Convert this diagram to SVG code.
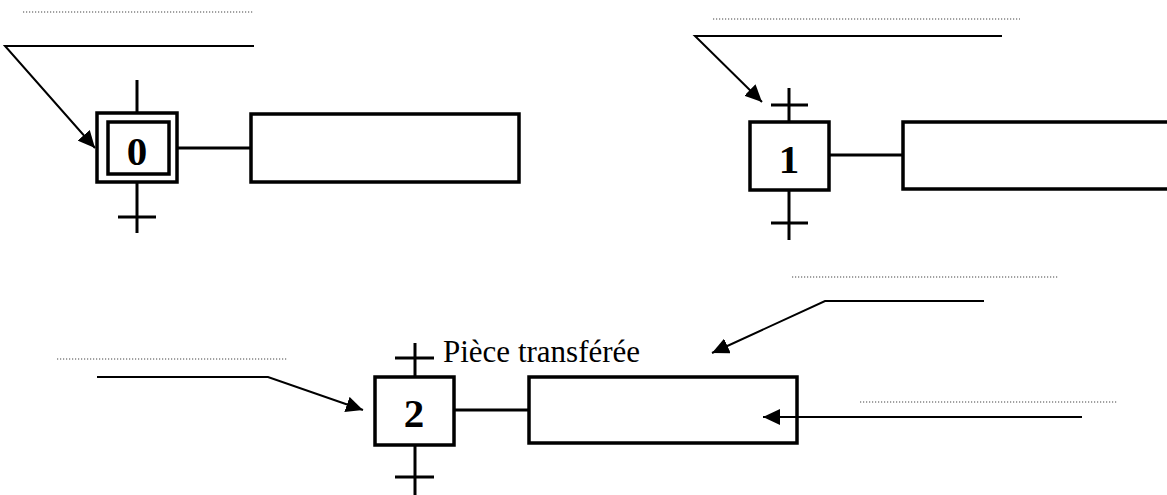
<svg xmlns="http://www.w3.org/2000/svg" width="1167" height="495" viewBox="0 0 1167 495">
<style>
.box{fill:#fff;stroke:#000;stroke-width:3.5}
.ln{stroke:#000;stroke-width:3;fill:none}
.ann{stroke:#000;stroke-width:2;fill:none}
.dot{stroke:#444;stroke-width:1.2;stroke-dasharray:1.2 1.8;fill:none}
.num{font-family:"Liberation Serif","Times New Roman",serif;font-weight:bold;font-size:41px;text-anchor:middle}
.lbl{font-family:"Liberation Serif","Times New Roman",serif;font-size:31px}
</style>
<defs>
<marker id="ah" markerUnits="userSpaceOnUse" markerWidth="18" markerHeight="16" refX="17" refY="8" orient="auto">
<path d="M0,0 L17,8 L0,16 Z" fill="#000"/>
</marker>
</defs>
<g id="step0">
<line class="ln" x1="137" y1="80" x2="137" y2="113"/>
<line class="ln" x1="137" y1="182" x2="137" y2="233"/>
<line class="ln" x1="118" y1="217" x2="156" y2="217"/>
<rect class="box" x="97" y="113" width="80" height="69"/>
<rect class="box" x="108" y="122" width="61" height="52"/>
<text class="num" x="137" y="165">0</text>
<line class="ln" x1="177" y1="148" x2="251" y2="148"/>
</g>
<g id="action0"><rect class="box" x="251" y="114" width="268" height="68"/></g>
<g id="step1">
<line class="ln" x1="789" y1="88" x2="789" y2="122"/>
<line class="ln" x1="771" y1="105" x2="808" y2="105"/>
<line class="ln" x1="789" y1="190" x2="789" y2="240"/>
<line class="ln" x1="771" y1="223" x2="808" y2="223"/>
<rect class="box" x="750" y="122" width="79" height="68"/>
<text class="num" x="789" y="173">1</text>
<line class="ln" x1="829" y1="155" x2="903" y2="155"/>
</g>
<g id="action1"><rect class="box" x="903" y="122" width="280" height="67"/></g>
<g id="step2">
<line class="ln" x1="415" y1="343" x2="415" y2="377"/>
<line class="ln" x1="395" y1="358" x2="434" y2="358"/>
<line class="ln" x1="415" y1="445" x2="415" y2="495"/>
<line class="ln" x1="395" y1="477" x2="434" y2="477"/>
<rect class="box" x="375" y="377" width="79" height="68"/>
<text class="num" x="414" y="427">2</text>
<line class="ln" x1="454" y1="410" x2="529" y2="410"/>
<text class="lbl" x="443" y="362">Pièce transférée</text>
</g>
<g id="action2"><rect class="box" x="529" y="377" width="268" height="66"/></g>
<g id="connectors">
<line class="dot" x1="23" y1="12" x2="253" y2="12"/>
<polyline class="ann" points="254,46 5,46 95,148" marker-end="url(#ah)"/>
<line class="dot" x1="713" y1="19" x2="1020" y2="19"/>
<polyline class="ann" points="1002,36 695,36 762,102" marker-end="url(#ah)"/>
<line class="dot" x1="57" y1="359" x2="287" y2="359"/>
<polyline class="ann" points="97,377 268,377 363,410" marker-end="url(#ah)"/>
<line class="dot" x1="792" y1="277" x2="1058" y2="277"/>
<polyline class="ann" points="984,301 825,301 712,353" marker-end="url(#ah)"/>
<line class="dot" x1="860" y1="402" x2="1118" y2="402"/>
<line class="ann" x1="1082" y1="417" x2="763" y2="417" marker-end="url(#ah)"/>
</g>
</svg>
